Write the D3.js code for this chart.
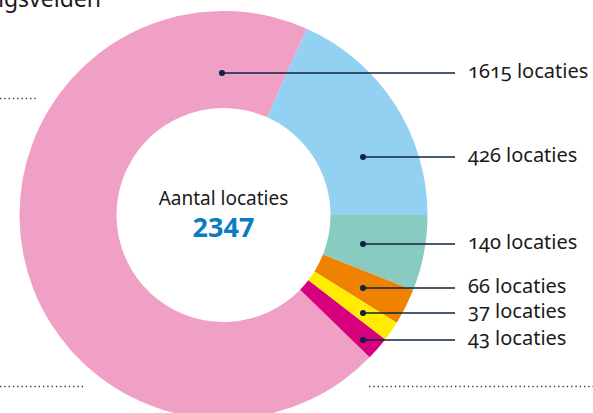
<!DOCTYPE html>
<html>
<head>
<meta charset="utf-8">
<script src="https://cdn.jsdelivr.net/npm/d3@7"></script>
<style>
  html, body { margin: 0; padding: 0; background: #fff; }
  svg { display: block; font-family: "Noto Sans", "Open Sans", sans-serif; }
  .label { font-variant-numeric: oldstyle-nums; }
</style>
</head>
<body>
<svg id="grafico" width="593" height="413"></svg>
<script>
// data, in the order of the labels (top to bottom)
const values = [1615, 426, 140, 66, 37, 43];
const labels = values.map(v => v + " locaties");
const colors = ["#f0a0c5", "#93d1f3", "#89cbc0", "#ef8200", "#ffec00", "#d6007e"];
const totalLabel = "Aantal locaties";
const totalValue = 2347;
const title = "Werkingsvelden";

// layout
const width = 593, height = 413;
const cx = 223.5, cy = 215;
const outerR = 204, innerR = 107;
const rowY = [73, 157, 244, 288, 313, 340];
const dotX = [222, 363, 363, 363, 363, 363];
const lineEnd = 455, labelX = 468;
const navy = "#0c2342";

const svg = d3.select("#grafico");

// titel (bovenaan afgesneden)
svg.append("text")
  .attr("x", 101).attr("y", 7)
  .attr("text-anchor", "end")
  .style("font-size", "23px")
  .attr("fill", "#1a1a1a")
  .text(title);

// stippellijnen
function dotted(x1, x2, y) {
  svg.append("line")
    .attr("x1", x1).attr("x2", x2).attr("y1", y).attr("y2", y)
    .attr("stroke", "#333").attr("stroke-width", 1.3)
    .attr("stroke-dasharray", "1.3,3");
}
dotted(0, 36, 98.5);
dotted(0, 86, 386.5);
dotted(369, 593, 386.5);

// donut: grens blauw/groen op 3 uur
const total = d3.sum(values);
const start = Math.PI / 2 - (values[0] + values[1]) / total * 2 * Math.PI;
const pie = d3.pie().sort(null).value(d => d)
  .startAngle(start).endAngle(start + 2 * Math.PI);
const arc = d3.arc().innerRadius(innerR).outerRadius(outerR);

const g = svg.append("g").attr("transform", "translate(" + cx + "," + cy + ")");
g.selectAll("path")
  .data(pie(values))
  .enter()
  .append("path")
  .attr("d", arc)
  .attr("fill", (d, i) => colors[i]);

// tekst in het midden
g.append("text")
  .attr("y", -10)
  .attr("text-anchor", "middle")
  .style("font-size", "19px")
  .attr("fill", "#1a1a1a")
  .text(totalLabel);
g.append("text")
  .attr("y", 22)
  .attr("text-anchor", "middle")
  .style("font-size", "27px")
  .style("font-weight", "bold")
  .attr("fill", "#0a7bc4")
  .text(totalValue);

// verwijslijnen met labels
values.forEach(function (v, i) {
  svg.append("line")
    .attr("x1", dotX[i]).attr("x2", lineEnd)
    .attr("y1", rowY[i]).attr("y2", rowY[i])
    .attr("stroke", navy).attr("stroke-width", 1.6);
  svg.append("circle")
    .attr("cx", dotX[i]).attr("cy", rowY[i]).attr("r", 3)
    .attr("fill", navy);
  svg.append("text")
    .attr("class", "label")
    .attr("x", labelX).attr("y", rowY[i] + 5)
    .style("font-size", "20px")
    .attr("fill", "#1a1a1a")
    .text(labels[i]);
});
</script>
</body>
</html>
